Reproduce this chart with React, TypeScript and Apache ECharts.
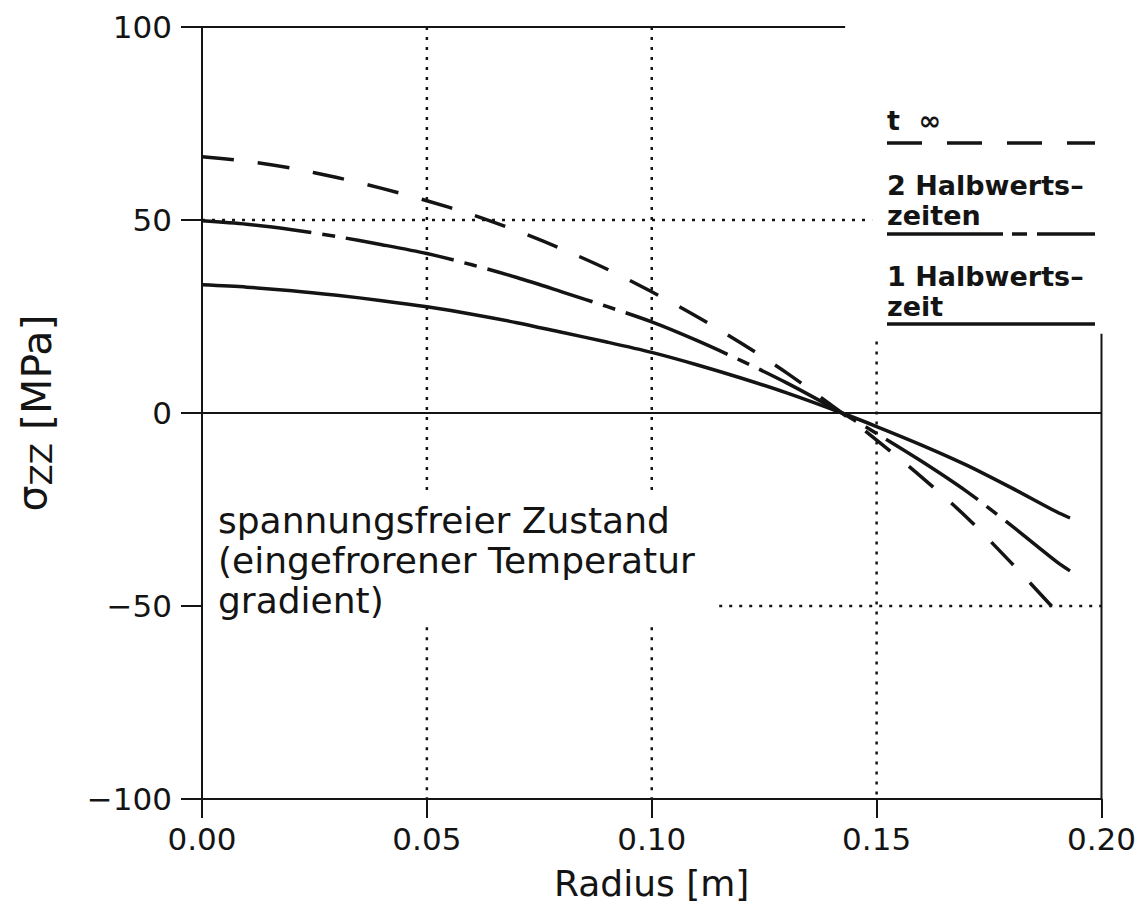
import React, { useEffect, useRef } from "react";
import * as echarts from "echarts";

// ---- data ----
const radiusHW = [0, 0.01, 0.02, 0.03, 0.04, 0.05, 0.06, 0.07, 0.08, 0.09, 0.1, 0.11, 0.12, 0.13, 0.1423, 0.15, 0.16, 0.17, 0.18, 0.19, 0.193];
const oneHalfLife = [33.2, 32.6, 31.7, 30.5, 29.1, 27.5, 25.6, 23.4, 20.9, 18.4, 15.7, 12.5, 9.0, 5.2, 0, -3.5, -8.3, -13.5, -19.4, -25.6, -27.2];
const twoHalfLives = [49.8, 48.9, 47.5, 45.7, 43.6, 41.3, 38.4, 35.1, 31.4, 27.6, 23.6, 18.8, 13.5, 7.8, 0, -5.3, -12.5, -20.3, -29.2, -38.5, -40.9];
const radiusInf = [0, 0.01, 0.02, 0.03, 0.04, 0.05, 0.06, 0.07, 0.08, 0.09, 0.1, 0.11, 0.12, 0.13, 0.1423, 0.15, 0.16, 0.17, 0.18, 0.19];
const tInfinity = [66.4, 65.2, 63.4, 61, 58.2, 55, 51.4, 47.2, 42.5, 37.3, 31.4, 25, 18, 10.4, 0, -7, -16.6, -27, -38.9, -51.4];

const xTicks = [0, 0.05, 0.1, 0.15, 0.2];
const yTicks = [-100, -50, 0, 50, 100];

// reference lines in data coordinates: [x1, y1, x2, y2]
const dottedLines = [
  [0.05, 100, 0.05, -20],
  [0.05, -55.5, 0.05, -100],
  [0.1, 100, 0.1, -20],
  [0.1, -55.5, 0.1, -100],
  [0.15, 18.5, 0.15, -100],
  [0, 50, 0.149, 50],
  [0.115, -50, 0.2, -50],
];
const solidLines = [
  [0, 100, 0.143, 100],
  [0.2, 20.5, 0.2, -100],
  [0, 0, 0.2, 0],
];

const legendLabels = ["t  \u221e", "2 Halbwerts\u2013", "zeiten", "1 Halbwerts\u2013", "zeit"];
const annotationLines = ["spannungsfreier Zustand", "(eingefrorener Temperatur", "gradient)"];

const FONT = "DejaVu Sans";
const INK = "#141414";

export default function App() {
  const ref = useRef<HTMLDivElement>(null);
  useEffect(() => {
    document.body.style.margin = "0";
    const chart = echarts.init(ref.current!, null, { renderer: "svg" });
    const pair = (xs: number[], ys: number[]) => xs.map((x, i) => [x, ys[i]]);
    const segSeries = (segs: number[][], type: any, width: number) =>
      segs.map((s) => ({
        type: "line",
        data: [[s[0], s[1]], [s[2], s[3]]],
        symbol: "none",
        silent: true,
        lineStyle: { color: INK, width, type },
        z: 1,
      }));

    const legendX = 887;
    const legendX2 = 1095;
    const txt = (text: string, x: number, y: number, size: number, weight = "normal") => ({
      type: "text",
      x,
      y,
      style: { text, fill: INK, font: `${weight} ${size}px "${FONT}"`, verticalAlign: "middle", align: "left" },
    });
    const lseg = (y: number, dash: any) => ({
      type: "line",
      shape: { x1: legendX, y1: y, x2: legendX2, y2: y },
      style: { stroke: INK, lineWidth: 3.5, lineDash: dash },
    });

    chart.setOption({
      animation: false,
      backgroundColor: "#ffffff",
      grid: { left: 202, right: 36, top: 27, bottom: 116 },
      xAxis: {
        type: "value",
        min: xTicks[0],
        max: xTicks[xTicks.length - 1],
        interval: 0.05,
        name: "Radius [m]",
        nameLocation: "middle",
        nameGap: 66,
        nameTextStyle: { fontFamily: FONT, fontSize: 36, color: INK },
        axisLine: { show: true, onZero: false, lineStyle: { color: INK, width: 2 } },
        axisTick: { show: true, inside: false, length: 19, lineStyle: { color: INK, width: 2 } },
        axisLabel: {
          margin: 24,
          fontFamily: FONT,
          fontSize: 31,
          color: INK,
          formatter: (v: number) => v.toFixed(2),
        },
        splitLine: { show: false },
      },
      yAxis: {
        type: "value",
        min: yTicks[0],
        max: yTicks[yTicks.length - 1],
        interval: 50,
        name: "{s|\u03c3}{z|ZZ} [MPa]",
        nameLocation: "middle",
        nameGap: 140,
        nameRotate: 90,
        nameTextStyle: {
          fontFamily: FONT,
          fontSize: 41,
          color: INK,
          rich: {
            s: { fontFamily: FONT, fontSize: 41, color: INK, padding: [0, 0, 10, 0] },
            z: { fontFamily: FONT, fontSize: 31, color: INK, padding: [8, 0, 0, 0] },
          },
        },
        axisLine: { show: true, onZero: false, lineStyle: { color: INK, width: 2 } },
        axisTick: { show: true, inside: false, length: 21, lineStyle: { color: INK, width: 2 } },
        axisLabel: {
          margin: 30,
          fontFamily: FONT,
          fontSize: 31,
          color: INK,
          formatter: (v: number) => String(v).replace("-", "\u2212"),
        },
        splitLine: { show: false },
      },
      series: [
        ...segSeries(dottedLines, [3, 7], 2.5),
        ...segSeries(solidLines, "solid", 2),
        {
          name: "1 Halbwertszeit",
          type: "line",
          data: pair(radiusHW, oneHalfLife),
          symbol: "none",
          smooth: 0.3,
          lineStyle: { color: INK, width: 3.5, type: "solid" },
          z: 3,
        },
        {
          name: "2 Halbwertszeiten",
          type: "line",
          data: pair(radiusHW, twoHalfLives),
          symbol: "none",
          smooth: 0.3,
          lineStyle: { color: INK, width: 3.5, type: [110, 11, 13, 11] },
          z: 3,
        },
        {
          name: "t \u221e",
          type: "line",
          data: pair(radiusInf, tInfinity),
          symbol: "none",
          smooth: 0.3,
          lineStyle: { color: INK, width: 3.5, type: [32, 24] },
          z: 3,
        },
      ],
      graphic: [
        txt(legendLabels[0], legendX, 120, 27, "bold"),
        lseg(143, [35, 25]),
        txt(legendLabels[1], legendX, 185, 27, "bold"),
        txt(legendLabels[2], legendX, 215, 27, "bold"),
        lseg(234, [116, 9, 15, 10]),
        txt(legendLabels[3], legendX, 276, 27, "bold"),
        txt(legendLabels[4], legendX, 306, 27, "bold"),
        lseg(324, null),
        txt(annotationLines[0], 218, 520, 36),
        txt(annotationLines[1], 218, 560, 36),
        txt(annotationLines[2], 218, 600, 36),
      ],
    });
    return () => chart.dispose();
  }, []);
  return <div ref={ref} style={{ width: 1139, height: 915 }} />;
}
